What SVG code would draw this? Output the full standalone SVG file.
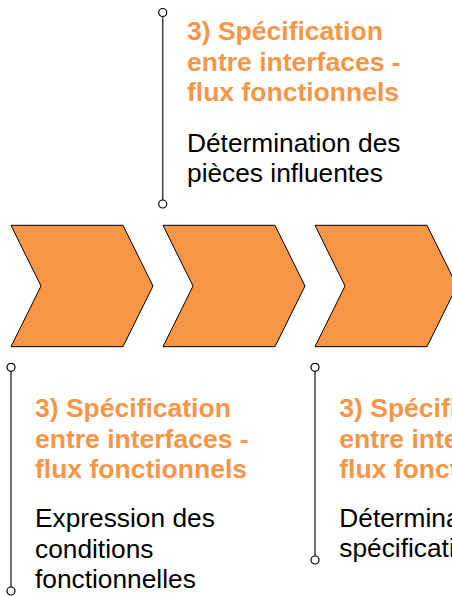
<svg xmlns="http://www.w3.org/2000/svg" width="452" height="596" viewBox="0 0 452 596">
<style>
.chev{fill:#F79646;stroke:#000;stroke-width:1}
.ln{stroke:#404040;stroke-width:1.5;fill:none}
.dot{fill:#fff;stroke:#000;stroke-width:1.2}
.h{font-family:"Liberation Sans",Arial,sans-serif;font-weight:bold;font-size:26.5px;fill:#F79646}
.b{font-family:"Liberation Sans",Arial,sans-serif;font-size:26.3px;fill:#000}
</style>
<rect width="452" height="596" fill="#fff"/>
<g id="chevron1"><polygon class="chev" points="11,225.3 123,225.3 153,286 123,346.7 11,346.7 41,286"/></g>
<g id="chevron2"><polygon class="chev" points="163,225.3 275,225.3 305,286 275,346.7 163,346.7 193,286"/></g>
<g id="chevron3"><polygon class="chev" points="315,225.3 427,225.3 457,286 427,346.7 315,346.7 345,286"/></g>
<g id="connectors">
<line class="ln" x1="162.7" y1="16.5" x2="162.7" y2="200"/>
<line class="ln" x1="11" y1="371.3" x2="11" y2="587"/>
<line class="ln" x1="315" y1="371.3" x2="315" y2="556"/>
<circle class="dot" cx="162.7" cy="12.5" r="4"/>
<circle class="dot" cx="162.7" cy="204" r="4"/>
<circle class="dot" cx="11" cy="367.3" r="4"/>
<circle class="dot" cx="11" cy="591" r="4"/>
<circle class="dot" cx="315" cy="367.3" r="4"/>
<circle class="dot" cx="315" cy="560" r="4"/>
</g>
<g id="label1">
<text class="h" x="187" y="40">3) Spécification</text>
<text class="h" x="187" y="70.5">entre interfaces -</text>
<text class="h" x="187" y="101">flux fonctionnels</text>
<text class="b" x="187" y="152">Détermination des</text>
<text class="b" x="187" y="182">pièces influentes</text>
</g>
<g id="label2">
<text class="h" x="35" y="417">3) Spécification</text>
<text class="h" x="35" y="447.5">entre interfaces -</text>
<text class="h" x="35" y="478">flux fonctionnels</text>
<text class="b" x="35" y="527">Expression des</text>
<text class="b" x="35" y="557.5">conditions</text>
<text class="b" x="35" y="588">fonctionnelles</text>
</g>
<g id="label3">
<text class="h" x="339.3" y="417">3) Spécification</text>
<text class="h" x="339.3" y="447.5">entre interfaces -</text>
<text class="h" x="339.3" y="478">flux fonctionnels</text>
<text class="b" x="339.3" y="527">Détermination des</text>
<text class="b" x="339.3" y="557">spécifications</text>
</g>
</svg>
